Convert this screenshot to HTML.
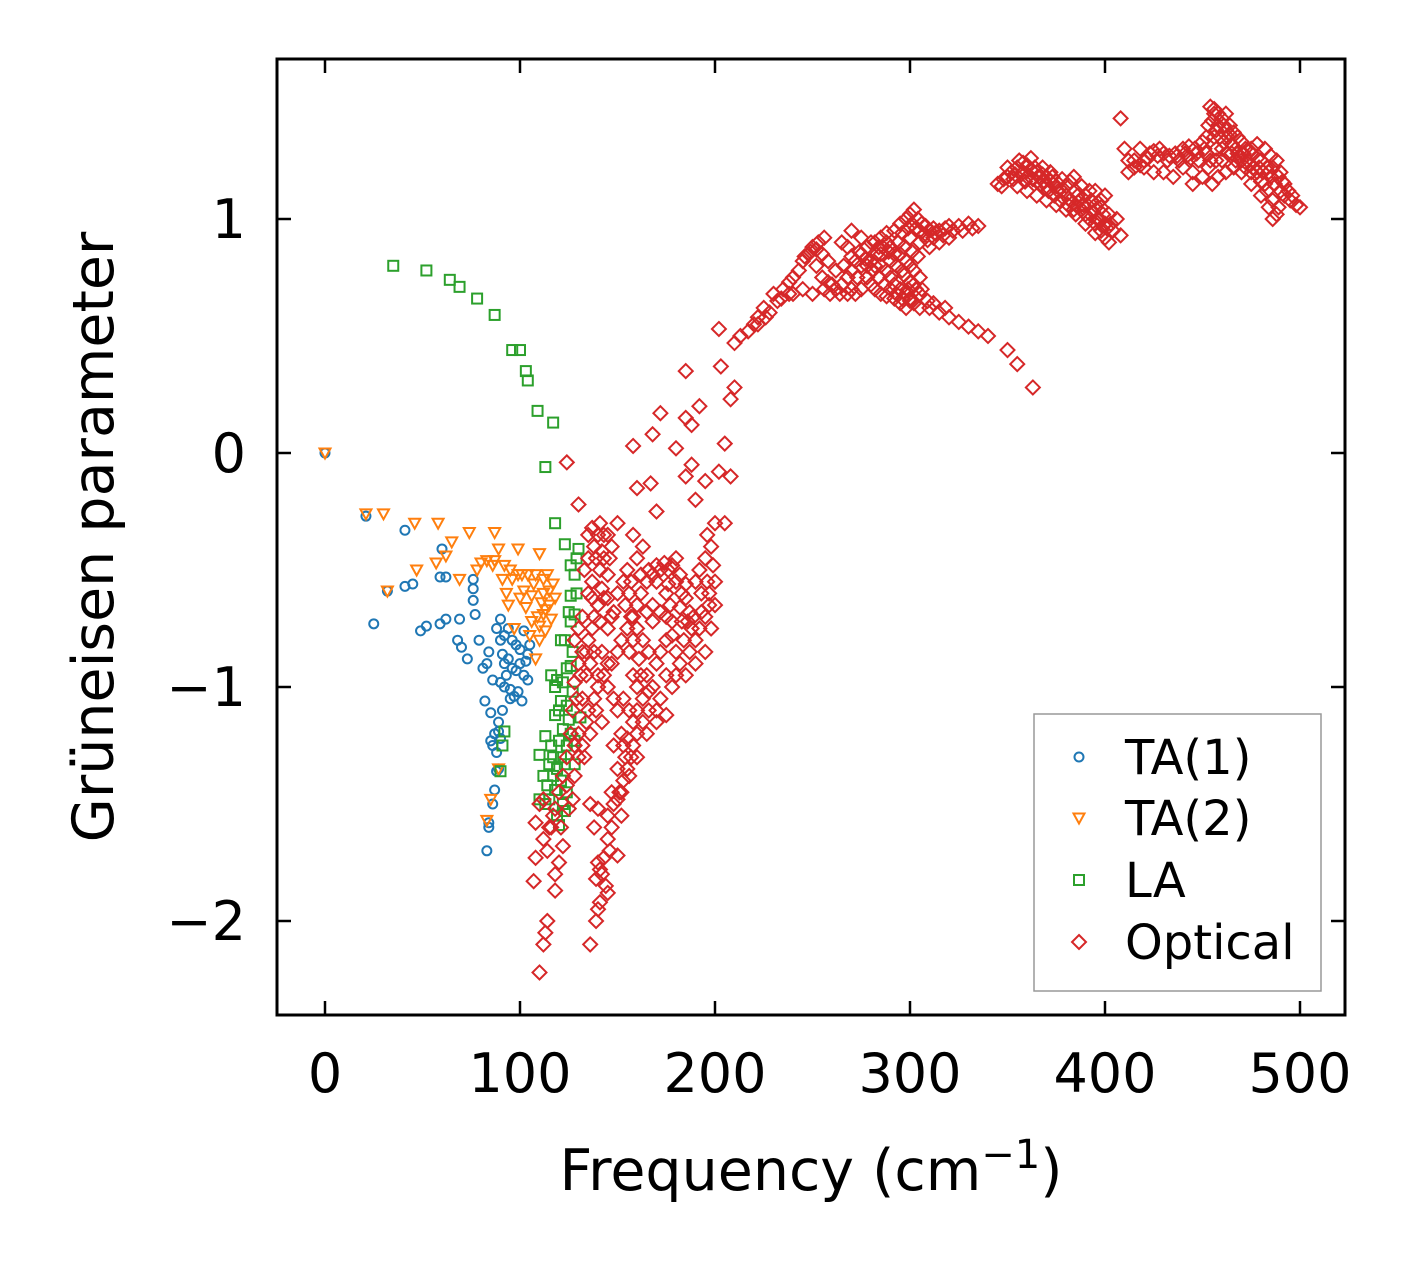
<!DOCTYPE html>
<html><head><meta charset="utf-8"><style>
html,body{margin:0;padding:0;background:#fff}
svg{display:block;font-family:"DejaVu Sans","Liberation Sans",sans-serif}
</style></head><body>
<svg id="chart" width="1416" height="1264" viewBox="0 0 1416 1264">
<g id="marks"></g>
<g id="axes"></g>
</svg>
<script>
const xTicks=[0,100,200,300,400,500];
const yTicks=[-2,-1,0,1];
const yTickLabels=["\u22122","\u22121","0","1"];
const seriesNames=["TA(1)","TA(2)","LA","Optical"];
const ta1=[[0,0],[21,-0.27],[25,-0.73],[32,-0.59],[41,-0.33],[41,-0.57],[45,-0.56],[49,-0.76],[52,-0.74],[59,-0.53],[60,-0.41],[62,-0.53],[59,-0.73],[62,-0.71],[69,-0.71],[68,-0.8],[70,-0.83],[73,-0.88],[76,-0.54],[76,-0.58],[76,-0.63],[77,-0.69],[79,-0.8],[81,-0.92],[82,-1.06],[83,-1.7],[84,-1.58],[84,-1.6],[85,-1.11],[85,-1.23],[86,-1.5],[87,-1.44],[88,-1.36],[89,-1.35],[89,-1.19],[90,-0.98],[91,-0.86],[90,-0.71],[92,-0.78],[94,-0.88],[95,-1.01],[96,-0.8],[97,-1.04],[98,-0.93],[100,-0.84],[101,-1.06],[102,-0.76],[103,-0.89],[104,-0.97],[105,-0.82],[84,-0.85],[83,-0.9],[87,-1.2],[89,-1.15],[93,-0.95],[99,-1.02],[91,-1.1],[86,-0.97],[88,-0.75],[90,-0.8],[92,-0.9],[94,-0.75],[96,-0.92],[98,-0.82],[100,-0.9],[102,-0.95],[104,-0.86],[95,-1.05],[92,-1.0],[88,-1.28],[86,-1.25],[90,-1.22]];
const ta2=[[0,0],[21,-0.26],[30,-0.26],[32,-0.59],[46,-0.3],[47,-0.5],[58,-0.3],[57,-0.47],[65,-0.38],[62,-0.44],[69,-0.54],[74,-0.34],[78,-0.5],[80,-0.47],[83,-0.46],[87,-0.34],[87,-0.46],[89,-0.41],[91,-0.54],[94,-0.65],[96,-0.54],[99,-0.41],[99,-0.52],[102,-0.59],[104,-0.52],[106,-0.61],[108,-0.52],[110,-0.43],[112,-0.54],[113,-0.67],[115,-0.59],[116,-0.71],[110,-0.8],[108,-0.88],[83,-1.57],[85,-1.48],[89,-1.35],[111,-0.64],[112,-0.69],[106,-0.72],[109,-0.7],[114,-0.52],[117,-0.56],[101,-0.52],[97,-0.75],[93,-0.6],[95,-0.5],[100,-0.62],[103,-0.66],[107,-0.56],[112,-0.6],[115,-0.65],[118,-0.62],[105,-0.78],[110,-0.74],[113,-0.76],[86,-0.48],[92,-0.48]];
const la=[[35,0.8],[52,0.78],[64,0.74],[69,0.71],[78,0.66],[87,0.59],[96,0.44],[100,0.44],[103,0.35],[104,0.31],[109,0.18],[117,0.13],[113,-0.06],[118,-0.3],[123,-0.39],[130,-0.41],[126,-0.48],[128,-0.52],[126,-0.61],[125,-0.68],[128,-0.69],[121,-0.8],[123,-0.8],[126,-0.91],[116,-0.95],[119,-0.97],[121,-1.06],[118,-1.12],[125,-1.14],[131,-1.13],[113,-1.21],[116,-1.25],[120,-1.23],[124,-1.25],[128,-1.23],[110,-1.29],[115,-1.33],[119,-1.35],[123,-1.33],[114,-1.42],[118,-1.44],[121,-1.4],[110,-1.48],[115,-1.48],[119,-1.55],[120,-1.59],[123,-1.53],[91,-1.25],[92,-1.19],[90,-1.36],[127,-1.02],[128,-1.33],[122,-1.18],[117,-1.3],[124,-1.45],[126,-0.72],[129,-0.45],[122,-0.98],[118,-1.0],[124,-1.08],[126,-1.2],[112,-1.38],[117,-1.38],[121,-1.3],[113,-1.5],[122,-1.5],[127,-0.85],[124,-0.92],[129,-0.6],[120,-1.1]];
const optical=[[110,-2.22],[112,-2.1],[113,-2.05],[114,-2],[107,-1.83],[108,-1.73],[112,-1.65],[115,-1.6],[117,-1.55],[108,-1.58],[110,-1.5],[112,-1.48],[118,-1.8],[118,-1.87],[120,-1.75],[122,-1.68],[121,-1.6],[125,-1.52],[127,-1.48],[124,-1.42],[128,-1.38],[130,-1.3],[132,-1.25],[134,-1.15],[135,-1.1],[138,-1.05],[140,-0.95],[140,-1],[127,-1.1],[128,-0.98],[130,-0.9],[132,-0.85],[135,-0.8],[138,-0.7],[140,-0.65],[142,-0.58],[145,-0.52],[143,-0.45],[147,-0.4],[140,-0.35],[137,-0.32],[141,-0.3],[145,-0.35],[138,-0.4],[142,-0.42],[130,-0.22],[124,-0.04],[136,-2.1],[139,-2],[140,-1.95],[141,-1.92],[139,-1.82],[141,-1.78],[143,-1.73],[146,-1.7],[140,-1.75],[138,-1.6],[136,-1.5],[140,-1.52],[145,-1.55],[148,-1.5],[150,-1.48],[152,-1.45],[153,-1.4],[155,-1.35],[157,-1.3],[156,-1.38],[150,-1.35],[148,-1.25],[152,-1.2],[155,-1.22],[150,-1.1],[148,-1.05],[145,-1],[143,-0.95],[147,-0.9],[150,-0.85],[152,-0.8],[155,-0.75],[157,-0.7],[160,-0.65],[162,-0.6],[165,-0.55],[168,-0.52],[172,-0.5],[176,-0.5],[180,-0.55],[183,-0.6],[185,-0.62],[187,-0.68],[183,-0.72],[178,-0.72],[175,-0.7],[172,-0.68],[168,-0.65],[165,-0.68],[160,-0.75],[158,-0.8],[156,-0.85],[158,-0.95],[160,-1],[163,-1.05],[166,-1.1],[170,-1.1],[168,-1],[165,-0.95],[170,-0.9],[172,-0.85],[175,-0.8],[178,-0.78],[180,-0.85],[182,-0.9],[185,-0.95],[187,-0.85],[190,-0.8],[192,-0.75],[195,-0.7],[197,-0.65],[193,-0.6],[190,-0.55],[192,-0.5],[195,-0.45],[198,-0.4],[196,-0.35],[200,-0.3],[205,-0.3],[208,-0.1],[202,-0.08],[195,-0.12],[190,-0.2],[185,-0.1],[188,-0.05],[180,0.02],[185,0.15],[188,0.12],[192,0.2],[185,0.35],[172,0.17],[168,0.08],[158,0.03],[160,-0.15],[167,-0.13],[170,-0.25],[158,-0.35],[150,-0.3],[160,-0.45],[163,-0.4],[175,-0.6],[177,-0.65],[180,-0.45],[197,-0.6],[198,-0.75],[200,-0.55],[200,-0.65],[195,-0.85],[190,-0.9],[175,-0.95],[178,-1],[180,-0.95],[172,-1.05],[175,-1.12],[170,-1.15],[165,-1.2],[160,-1.2],[158,-1.25],[153,-1.25],[160,-1.3],[147,-1.6],[145,-1.65],[142,-1.8],[144,-1.85],[145,-1.88],[150,-1.72],[152,-1.55],[130,-1.2],[128,-1.25],[132,-1.05],[134,-0.95],[136,-0.9],[138,-0.85],[145,-0.75],[147,-0.7],[150,-0.6],[153,-0.55],[155,-0.5],[157,-0.55],[143,-0.62],[137,-0.55],[135,-0.6],[132,-0.7],[130,-0.75],[128,-0.8],[135,-0.45],[133,-0.5],
[162,-0.52],[166,-0.5],[170,-0.48],[174,-0.47],[178,-0.48],[182,-0.52],[185,-0.56],[170,-0.55],[176,-0.56],[182,-0.66],[186,-0.72],[189,-0.7],[168,-0.72],[163,-0.8],[161,-0.88],[162,-0.95],[166,-0.85],[184,-0.8],[188,-0.75],[193,-0.68],[196,-0.55],[199,-0.48],[145,-0.62],[148,-0.68],[141,-0.72],[137,-0.75],[134,-0.85],[131,-0.95],[129,-1.05],[126,-1.2],[124,-1.3],[122,-1.38],[120,-1.45],[118,-1.52],[116,-1.6],[114,-1.7],[142,-0.85],[145,-0.9],[139,-1.1],[142,-1.15],[136,-1.2],[133,-1.3],[135,-0.35],[143,-0.35],[139,-0.45],[146,-0.45],[137,-0.62],[141,-0.5],[154,-1.3],[151,-1.45],[147,-1.45],[158,-1.15],[156,-1.1],[153,-1.05],[160,-1.1],[163,-1.15],[166,-1.02],[158,-0.7],[154,-0.65],[156,-0.6],
[205,0.04],[208,0.23],[210,0.28],[203,0.37],[202,0.53],[210,0.47],[213,0.5],[217,0.52],[220,0.55],[222,0.58],[225,0.62],[228,0.6],[232,0.65],[230,0.68],[235,0.7],[238,0.73],[240,0.75],[243,0.78],[245,0.82],[248,0.85],[250,0.88],[253,0.9],[256,0.92],[252,0.8],[255,0.75],[258,0.73],[260,0.72],[262,0.7],[265,0.72],[268,0.75],[270,0.78],[272,0.82],[275,0.85],[278,0.88],[280,0.9],[283,0.85],[285,0.8],[288,0.78],[290,0.75],[292,0.72],[295,0.7],[298,0.68],[300,0.66],[302,0.64],[305,0.62],[310,0.62],[315,0.6],[320,0.58],[325,0.56],[330,0.54],[335,0.52],[340,0.5],[350,0.44],[355,0.38],[363,0.28],[250,0.68],[245,0.7],[240,0.68],[265,0.9],[268,0.88],[275,0.8],[278,0.75],[280,0.72],[282,0.7],[285,0.68],[288,0.67],[292,0.66],[295,0.64],[298,0.62],[300,0.65],[305,0.68],[268,0.68],[270,0.7],[272,0.68],[275,0.7],
[246,0.84],[249,0.86],[252,0.87],[255,0.85],[258,0.82],[262,0.78],[266,0.8],[270,0.84],[274,0.86],[277,0.83],[281,0.78],[284,0.75],[287,0.72],[290,0.7],[293,0.68],[296,0.66],[299,0.7],[302,0.72],[306,0.7],[309,0.65],[312,0.64],[318,0.62],[286,0.88],[289,0.86],[293,0.8],[296,0.78],[282,0.8],[278,0.8],[273,0.75],[264,0.68],[259,0.68],[256,0.7],[238,0.68],[234,0.66],[226,0.58],[222,0.55],
[282,0.9],[285,0.92],[288,0.94],[290,0.88],[292,0.95],[295,0.98],[298,1],[300,1.02],[302,1.04],[304,1],[306,0.98],[308,0.97],[310,0.95],[312,0.96],[315,0.95],[318,0.96],[320,0.97],[325,0.97],[330,0.98],[335,0.97],[295,0.85],[298,0.82],[300,0.8],[302,0.78],[305,0.75],[290,0.82],[285,0.85],[280,0.82],[300,0.92],[305,0.9],[310,0.88],[315,0.9],[320,0.92],[305,0.95],[312,0.92],[275,0.92],[270,0.95],
[296,0.94],[299,0.96],[301,0.98],[303,0.96],[307,0.93],[309,0.91],[313,0.94],[317,0.93],[322,0.95],[327,0.95],[332,0.96],[294,0.9],[297,0.88],[301,0.86],[304,0.84],[288,0.9],[284,0.88],[292,0.85],[297,0.76],[300,0.73],[303,0.7],
[345,1.15],[348,1.17],[350,1.18],[352,1.2],[355,1.22],[358,1.24],[360,1.23],[362,1.21],[365,1.2],[368,1.19],[370,1.18],[372,1.16],[375,1.14],[378,1.12],[380,1.1],[382,1.08],[385,1.06],[388,1.04],[390,1.02],[392,1],[395,0.98],[398,0.95],[400,0.92],[402,0.9],[404,0.95],[406,1],[408,0.93],[355,1.14],[360,1.12],[365,1.1],[370,1.08],[375,1.06],[380,1.04],[385,1.02],[390,0.98],[395,0.94],[398,1.05],[400,1.1],[395,1.12],[390,1.1],[385,1.12],[380,1.14],[375,1.16],[370,1.14],[365,1.16],[360,1.18],[358,1.2],[356,1.25],[362,1.26],[368,1.22],[372,1.2],[378,1.17],[382,1.16],[388,1.14],[392,1.12],[398,1.08],[402,1.02],[350,1.22],[384,1.18],[395,1.06],[400,0.98],[366,1.18],
[353,1.17],[357,1.19],[363,1.17],[367,1.15],[371,1.12],[374,1.1],[377,1.08],[381,1.06],[384,1.04],[387,1.08],[391,1.06],[394,1.03],[397,1.0],[399,1.02],[401,0.96],[403,0.98],[386,1.1],[376,1.12],[373,1.18],[369,1.16],[364,1.22],[359,1.16],[354,1.19],[347,1.14],[389,1.06],[393,1.08],[396,1.0],
[408,1.43],[410,1.3],[412,1.25],[415,1.22],[418,1.23],[420,1.25],[423,1.28],[425,1.29],[428,1.3],[430,1.28],[433,1.27],[436,1.28],[440,1.3],[443,1.31],[446,1.3],[450,1.33],[452,1.35],[454,1.48],[456,1.47],[458,1.45],[460,1.43],[462,1.45],[464,1.4],[466,1.37],[468,1.35],[470,1.33],[472,1.3],[475,1.28],[478,1.26],[480,1.25],[483,1.22],[485,1.18],[487,1.15],[490,1.12],[492,1.1],[495,1.08],[498,1.06],[500,1.05],[488,1.25],[485,1.27],[482,1.3],[478,1.32],[475,1.3],[470,1.25],[466,1.22],[462,1.2],[458,1.18],[455,1.15],[450,1.18],[445,1.2],[440,1.22],[435,1.18],[430,1.2],[425,1.2],[420,1.22],[415,1.25],[412,1.2],[418,1.3],[460,1.3],[456,1.35],[465,1.32],[470,1.2],[475,1.15],[480,1.1],[484,1.05],[486,1],[488,1.02],[458,1.4],[462,1.38],[454,1.25],[452,1.28],[448,1.25],[442,1.27],[438,1.25],[478,1.2],[482,1.15],[490,1.2],[492,1.15],[445,1.15],[468,1.28],
[422,1.26],[427,1.27],[432,1.25],[437,1.27],[441,1.28],[444,1.26],[447,1.28],[451,1.3],[453,1.4],[455,1.42],[457,1.38],[459,1.35],[461,1.33],[463,1.35],[465,1.28],[467,1.3],[469,1.27],[471,1.28],[473,1.25],[476,1.22],[479,1.22],[481,1.2],[484,1.2],[486,1.22],[489,1.18],[491,1.16],[494,1.12],[496,1.1],[453,1.22],[457,1.25],[460,1.25],[463,1.28],[467,1.25],[472,1.22],[475,1.2],[480,1.16],[483,1.12],[486,1.08],[489,1.05],[457,1.3],[461,1.4],[464,1.36],[456,1.45]];

const L=277,R=1345,T=59,B=1015;
const xScale=v=>325+v*1.95;
const yScale=v=>453-v*234;
const NS="http://www.w3.org/2000/svg";
const marks=document.getElementById('marks'), axes=document.getElementById('axes');
function mk(tag,attrs,parent){const e=document.createElementNS(NS,tag);for(const k in attrs)e.setAttribute(k,attrs[k]);parent.appendChild(e);return e;}
const colors=['#1f77b4','#ff7f0e','#2ca02c','#d62728'];
function marker(type,cx,cy,col,parent){
  let e;
  if(type===0) e=mk('circle',{cx:cx,cy:cy,r:4.5,fill:'none',stroke:col,'stroke-width':2},parent);
  else if(type===1) e=mk('polygon',{points:`${cx-5.5},${cy-4.5} ${cx+5.5},${cy-4.5} ${cx},${cy+5.5}`,fill:'none',stroke:col,'stroke-width':2},parent);
  else if(type===2) e=mk('rect',{x:cx-5,y:cy-5,width:10,height:10,fill:'none',stroke:col,'stroke-width':2},parent);
  else e=mk('polygon',{points:`${cx},${cy-7} ${cx+7},${cy} ${cx},${cy+7} ${cx-7},${cy}`,fill:'none',stroke:col,'stroke-width':2},parent);
  return e;
}
const allSeries=[ta1,ta2,la,optical];
const snames=['ta1-point','ta2-point','la-point','optical-point'];
allSeries.forEach((s,i)=>{
  const g=mk('g',{},marks);
  
  
  s.forEach(p=>{
    const e=marker(i,xScale(p[0]),yScale(p[1]),colors[i],g);
    
    
  });
});
const fr=mk('rect',{x:L,y:T,width:R-L,height:B-T,fill:'none',stroke:'#000','stroke-width':3},axes);


xTicks.forEach(t=>{
  const x=xScale(t);
  mk('line',{x1:x,y1:B,x2:x,y2:B-14,stroke:'#000','stroke-width':2.5},axes);
  mk('line',{x1:x,y1:T,x2:x,y2:T+14,stroke:'#000','stroke-width':2.5},axes);
  const tx=mk('text',{x:x,y:1092,'font-size':54,'text-anchor':'middle',fill:'#000'},axes);
  tx.textContent=t;
  
  
});
yTicks.forEach((t,i)=>{
  const y=yScale(t);
  mk('line',{x1:L,y1:y,x2:L+14,y2:y,stroke:'#000','stroke-width':2.5},axes);
  mk('line',{x1:R,y1:y,x2:R-14,y2:y,stroke:'#000','stroke-width':2.5},axes);
  const tx=mk('text',{x:246,y:y+19,'font-size':54,'text-anchor':'end',fill:'#000'},axes);
  tx.textContent=yTickLabels[i];
  
  
});
const xt=mk('text',{x:811,y:1190,'font-size':57,'text-anchor':'middle',fill:'#000'},axes);
xt.innerHTML='Frequency (cm<tspan dy="-22" font-size="40">\u22121</tspan><tspan dy="22">)</tspan>';


const yt=mk('text',{x:0,y:0,'font-size':57,'text-anchor':'middle',fill:'#000',transform:'translate(113,537) rotate(-90)'},axes);
yt.textContent='Grüneisen parameter';


const lg=mk('g',{},axes);


mk('rect',{x:1034,y:714,width:287,height:277,fill:'#fff',stroke:'#999','stroke-width':1.5},lg);
const ly=[757,818,880,942];
seriesNames.forEach((n,i)=>{
  const eg=mk('g',{},lg);
  
  
  marker(i,1079,ly[i],colors[i],eg);
  const tx=mk('text',{x:1125,y:ly[i]+17,'font-size':48,fill:'#000'},eg);
  tx.textContent=n;
});
</script>
</body></html>
